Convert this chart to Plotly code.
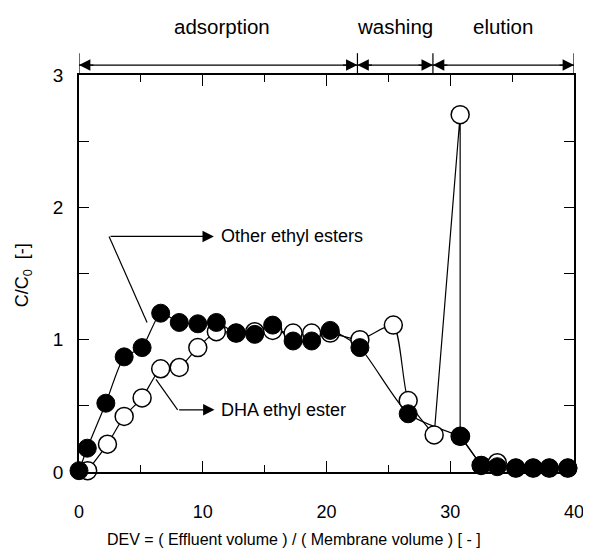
import plotly.graph_objects as go

# ---- data ----
dha_x = [0.7, 2.3, 3.65, 5.1, 6.6, 8.1, 9.6, 11.1, 12.7, 14.2, 15.65, 17.3, 18.8, 20.3,
         22.7, 25.4, 26.6, 28.7, 30.8, 30.8, 32.5, 33.8, 35.3, 36.7, 38.0, 39.5]
dha_y = [0.01, 0.21, 0.42, 0.56, 0.78, 0.79, 0.94, 1.06, 1.05, 1.06, 1.07, 1.05, 1.05, 1.05,
         1.0, 1.11, 0.54, 0.28, 2.70, 0.27, 0.05, 0.07, 0.03, 0.03, 0.03, 0.03]

oth_x = [0.0, 0.67, 2.17, 3.65, 5.1, 6.6, 8.1, 9.6, 11.1, 12.7, 14.2, 15.65, 17.3, 18.8, 20.3,
         22.7, 26.6, 30.85, 32.5, 33.8, 35.3, 36.7, 38.0, 39.5]
oth_y = [0.01, 0.18, 0.52, 0.87, 0.94, 1.20, 1.13, 1.12, 1.13, 1.05, 1.04, 1.11, 0.99, 0.99, 1.07,
         0.94, 0.44, 0.27, 0.05, 0.04, 0.03, 0.03, 0.03, 0.03]

phase_names = ["adsorption", "washing", "elution"]
phase_bounds = [0.0, 22.5, 28.6, 40.0]

x_ticks = [0, 10, 20, 30, 40]
y_ticks = [0, 1, 2, 3]

FONT = "Liberation Sans, Arial, sans-serif"
fig = go.Figure()

# DHA line: smooth part then straight spike
n_smooth = dha_x.index(28.7) + 1
fig.add_trace(go.Scatter(x=dha_x[:n_smooth], y=dha_y[:n_smooth], mode="lines",
                         line=dict(color="black", width=1.2, shape="spline", smoothing=0.6),
                         hoverinfo="skip", showlegend=False))
fig.add_trace(go.Scatter(x=dha_x[n_smooth - 1:], y=dha_y[n_smooth - 1:], mode="lines",
                         line=dict(color="black", width=1.2),
                         hoverinfo="skip", showlegend=False))
# Other line
n2 = oth_x.index(30.85) + 1
fig.add_trace(go.Scatter(x=oth_x[:n2], y=oth_y[:n2], mode="lines",
                         line=dict(color="black", width=1.2, shape="spline", smoothing=0.6),
                         hoverinfo="skip", showlegend=False))
fig.add_trace(go.Scatter(x=oth_x[n2 - 1:], y=oth_y[n2 - 1:], mode="lines",
                         line=dict(color="black", width=1.2),
                         hoverinfo="skip", showlegend=False))

# markers
fig.add_trace(go.Scatter(x=dha_x, y=dha_y, mode="markers", name="DHA ethyl ester",
                         marker=dict(symbol="circle", size=18, color="white",
                                     line=dict(color="black", width=1.5)),
                         cliponaxis=False, showlegend=False))
fig.add_trace(go.Scatter(x=oth_x, y=oth_y, mode="markers", name="Other ethyl esters",
                         marker=dict(symbol="circle", size=18, color="black",
                                     line=dict(color="black", width=1)),
                         cliponaxis=False, showlegend=False))

# label pointer lines
fig.add_trace(go.Scatter(x=[5.5, 2.43], y=[1.13, 1.78], mode="lines",
                         line=dict(color="black", width=1.2), hoverinfo="skip", showlegend=False))
fig.add_trace(go.Scatter(x=[6.22, 7.97], y=[0.70, 0.47], mode="lines",
                         line=dict(color="black", width=1.2), hoverinfo="skip", showlegend=False))

annotations = []
annotations.append(dict(x=10.9, y=1.78, ax=2.43, ay=1.78, xref="x", yref="y", axref="x", ayref="y",
                        showarrow=True, arrowhead=2, arrowsize=1.9, arrowwidth=1.2,
                        arrowcolor="black", text=""))
annotations.append(dict(x=11.3, y=1.78, xref="x", yref="y", text="Other ethyl esters",
                        showarrow=False, xanchor="left", yanchor="middle",
                        font=dict(family=FONT, size=18, color="black")))
annotations.append(dict(x=10.95, y=0.47, ax=7.97, ay=0.47, xref="x", yref="y", axref="x", ayref="y",
                        showarrow=True, arrowhead=2, arrowsize=1.9, arrowwidth=1.2,
                        arrowcolor="black", text=""))
annotations.append(dict(x=11.35, y=0.47, xref="x", yref="y", text="DHA ethyl ester",
                        showarrow=False, xanchor="left", yanchor="middle",
                        font=dict(family=FONT, size=18, color="black")))

shapes = []
ARROW_Y = 1.025  # paper units, just above the frame
for i, name in enumerate(phase_names):
    a, b = phase_bounds[i], phase_bounds[i + 1]
    shapes.append(dict(type="line", xref="x", yref="paper", x0=a, x1=b, y0=ARROW_Y, y1=ARROW_Y,
                       line=dict(color="black", width=1.2)))
    for tip, tail in ((b, a), (a, b)):
        annotations.append(dict(x=tip, y=ARROW_Y, ax=-16 if tip > tail else 16, ay=0,
                                xref="x", yref="paper", axref="pixel", ayref="pixel",
                                showarrow=True, arrowhead=2, arrowsize=1.9, arrowwidth=1.2,
                                arrowcolor="black", text="", standoff=0))
    annotations.append(dict(x=(a + b) / 2 + (0.3 if i == 0 else 0), y=1.121, xref="x", yref="paper",
                            text=name, showarrow=False, xanchor="center", yanchor="middle",
                            font=dict(family=FONT, size=20.5, color="black")))
for bnd in phase_bounds:
    shapes.append(dict(type="line", xref="x", yref="paper", x0=bnd, x1=bnd, y0=1.0, y1=1.055,
                       line=dict(color="black", width=1.2)))

# axis titles
annotations.append(dict(x=-0.113, y=0.496, xref="paper", yref="paper", text="C/C<sub>0</sub>  [-]",
                        textangle=-90, showarrow=False, xanchor="center", yanchor="middle",
                        font=dict(family=FONT, size=18, color="black")))
annotations.append(dict(x=0.434, y=-0.171, xref="paper", yref="paper",
                        text="DEV = ( Effluent volume ) / ( Membrane volume ) [ - ]",
                        showarrow=False, xanchor="center", yanchor="middle",
                        font=dict(family=FONT, size=16, color="black")))

# the page body adds an 8 px offset, so the figure is 8 px smaller with shifted margins
fig.update_layout(
    width=583, height=544,
    margin=dict(l=71, r=17, t=67, b=80, autoexpand=False),
    paper_bgcolor="white", plot_bgcolor="white",
    annotations=annotations, shapes=shapes,
    font=dict(family=FONT, color="black"),
)
fig.update_xaxes(range=[0, 40], tickvals=x_ticks, ticktext=[str(v) for v in x_ticks],
                 ticks="inside", ticklen=11, tickwidth=1.2, tickcolor="black",
                 minor=dict(dtick=5, tick0=0, ticks="inside", ticklen=7, tickwidth=1.2, tickcolor="black"),
                 showline=True, linecolor="black", linewidth=1.5, mirror="ticks",
                 showgrid=False, zeroline=False, automargin=False,
                 tickfont=dict(family=FONT, size=18, color="black"), ticklabelstandoff=23)
fig.update_yaxes(range=[0, 3], tickvals=y_ticks, ticktext=[str(v) for v in y_ticks],
                 ticks="inside", ticklen=10, tickwidth=1.2, tickcolor="black",
                 minor=dict(dtick=0.5, tick0=0, ticks="inside", ticklen=10, tickwidth=1.2, tickcolor="black"),
                 showline=True, linecolor="black", linewidth=1.5, mirror="ticks",
                 showgrid=False, zeroline=False, automargin=False,
                 tickfont=dict(family=FONT, size=19, color="black"), ticklabelstandoff=10)

fig.write_html("out.html")
